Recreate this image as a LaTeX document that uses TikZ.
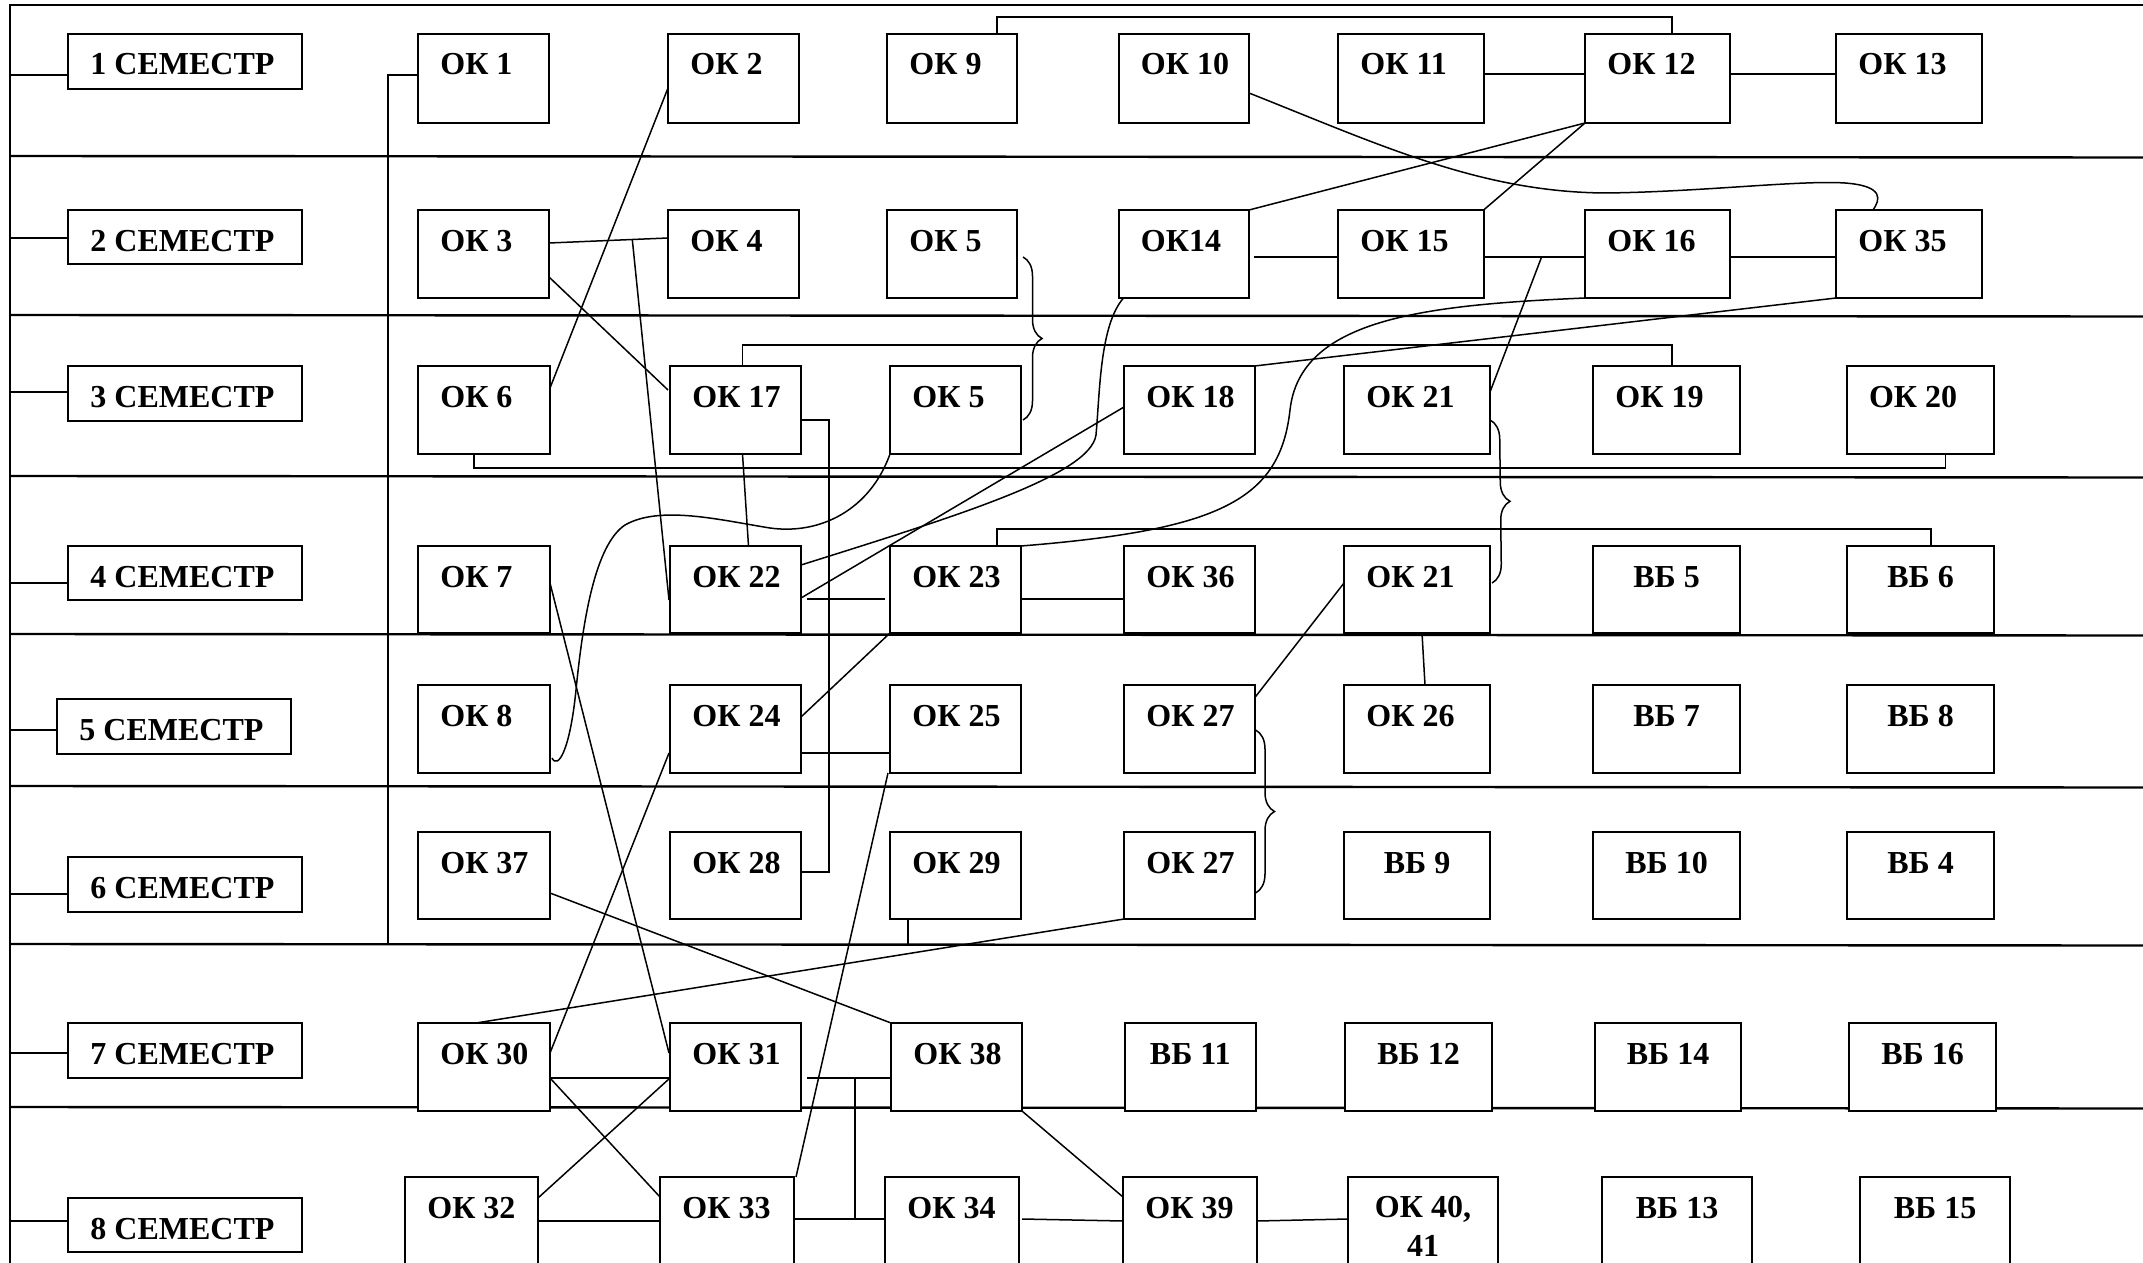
\documentclass[tikz,border=0pt]{standalone}
\usepackage{fontspec}
\setmainfont{Liberation Serif}
\usetikzlibrary{calc,decorations.pathreplacing}
\newcommand\bx[6]{%
  \pgfmathsetmacro\bxw{(#4-#2)*0.5}%
  \pgfmathsetmacro\bxh{(#5-#3)*0.5}%
  \node[box, minimum width=\bxw pt, minimum height=\bxh pt] (#1) at ({(#2+#4)/2},{(#3+#5)/2}) {};%
  \node[lbl, anchor=base west] (#1t) at ($(#1.north west)+(22,41)$) {#6};%
}
\newcommand\bxc[6]{%
  \pgfmathsetmacro\bxw{(#4-#2)*0.5}%
  \pgfmathsetmacro\bxh{(#5-#3)*0.5}%
  \node[box, minimum width=\bxw pt, minimum height=\bxh pt] (#1) at ({(#2+#4)/2},{(#3+#5)/2}) {};%
  \node[lbl, anchor=base] (#1t) at ($(#1.north)+(0,41)$) {#6};%
}
\begin{document}
\begin{tikzpicture}[x=0.5pt,y=-0.5pt,
  box/.style={draw, fill=white, line width=1pt, inner sep=0pt, outer sep=0pt},
  lbl/.style={inner sep=0pt, font=\fontsize{16}{19.25}\selectfont\bfseries},
  sep/.style={line width=1.2pt},
  semc/.style={line width=1pt},
  conn/.style={line width=0.75pt},
  brc/.style={line width=0.75pt, decorate, decoration={brace, amplitude=9.5pt}}]
\useasboundingbox (0,0) rectangle (2143,1263);
\clip (0,0) rectangle (2143,1263);
\fill[white] (0,0) rectangle (2143,1263);

% frame and row separators
\draw[sep] (10,1263) -- (10,5) -- (2143,5);
\foreach \yy in {156,315,476,634,786,944,1107}
  \draw[sep] (10,\yy) -- (2143,\yy+1.5);

% semester boxes
\bx{s1}{68}{34}{301.5}{89}{1 СЕМЕСТР}
\bx{s2}{68}{210}{301.5}{264}{2 СЕМЕСТР}
\bx{s3}{68}{366}{301.5}{421}{3 СЕМЕСТР}
\bx{s4}{68}{546}{301.5}{600}{4 СЕМЕСТР}
\bx{s5}{57}{699}{290.5}{754}{5 СЕМЕСТР}
\bx{s6}{68}{857}{301.5}{912}{6 СЕМЕСТР}
\bx{s7}{68}{1023}{301.5}{1078}{7 СЕМЕСТР}
\bx{s8}{68}{1198}{301.5}{1252}{8 СЕМЕСТР}
\draw[semc] ($(s1.north west)+(0,41)$) -- ++(-58,0);
\draw[semc] ($(s2.north west)+(0,28)$) -- ++(-58,0);
\draw[semc] ($(s3.north west)+(0,26)$) -- ++(-58,0);
\draw[semc] ($(s4.north west)+(0,37)$) -- ++(-58,0);
\draw[semc] ($(s5.north west)+(0,31)$) -- ++(-47,0);
\draw[semc] ($(s6.north west)+(0,37)$) -- ++(-58,0);
\draw[semc] ($(s7.north west)+(0,30)$) -- ++(-58,0);
\draw[semc] ($(s8.north west)+(0,23)$) -- ++(-58,0);

% row 1
\bx{ok1}{418}{34}{549}{123}{ОК 1}
\bx{ok2}{668}{34}{798.5}{123}{ОК 2}
\bx{ok9}{887}{34}{1017}{123}{ОК 9}
\bx{ok10}{1118.5}{34}{1249}{123}{ОК 10}
\bx{ok11}{1338}{34}{1483.6}{123}{ОК 11}
\bx{ok12}{1585}{34}{1730}{123}{ОК 12}
\bx{ok13}{1836}{34}{1982}{123}{ОК 13}
% row 2
\bx{ok3}{418}{210}{549}{298}{ОК 3}
\bx{ok4}{668}{210}{798.5}{298}{ОК 4}
\bx{ok5}{887}{210}{1017}{298}{ОК 5}
\bx{ok14}{1118.5}{210}{1249}{298}{ОК14}
\bx{ok15}{1338}{210}{1483.6}{298}{ОК 15}
\bx{ok16}{1585}{210}{1730}{298}{ОК 16}
\bx{ok35}{1836}{210}{1982}{298}{ОК 35}
% row 3
\bx{ok6}{418}{366}{550}{454}{ОК 6}
\bx{ok17}{670}{366}{801}{454}{ОК 17}
\bx{ok5b}{890}{366}{1021}{454}{ОК 5}
\bx{ok18}{1124}{366}{1254.5}{454}{ОК 18}
\bx{ok21}{1344}{366}{1490}{454}{ОК 21}
\bx{ok19}{1593}{366}{1740}{454}{ОК 19}
\bx{ok20}{1846.6}{366}{1993.6}{454}{ОК 20}
% row 4
\bx{ok7}{418}{546}{550}{633}{ОК 7}
\bx{ok22}{670}{546}{801}{633}{ОК 22}
\bx{ok23}{890}{546}{1021}{633}{ОК 23}
\bx{ok36}{1124}{546}{1254.5}{633}{ОК 36}
\bx{ok21b}{1344}{546}{1490}{633}{ОК 21}
\bxc{vb5}{1593}{546}{1740}{633}{ВБ 5}
\bxc{vb6}{1847}{546}{1994}{633}{ВБ 6}
% row 5
\bx{ok8}{418}{685}{550}{773}{ОК 8}
\bx{ok24}{670}{685}{801}{773}{ОК 24}
\bx{ok25}{890}{685}{1021}{773}{ОК 25}
\bx{ok27}{1124}{685}{1254.5}{773}{ОК 27}
\bx{ok26}{1344}{685}{1490}{773}{ОК 26}
\bxc{vb7}{1593}{685}{1740}{773}{ВБ 7}
\bxc{vb8}{1847}{685}{1994}{773}{ВБ 8}
% row 6
\bx{ok37}{418}{832}{550}{919}{ОК 37}
\bx{ok28}{670}{832}{801}{919}{ОК 28}
\bx{ok29}{890}{832}{1021}{919}{ОК 29}
\bx{ok27b}{1124}{832}{1254.5}{919}{ОК 27}
\bxc{vb9}{1344}{832}{1490}{919}{ВБ 9}
\bxc{vb10}{1593}{832}{1740}{919}{ВБ 10}
\bxc{vb4}{1847}{832}{1994}{919}{ВБ 4}
% row 7
\bx{ok30}{418}{1023}{550}{1111}{ОК 30}
\bx{ok31}{670}{1023}{801}{1111}{ОК 31}
\bx{ok38}{891}{1023}{1022}{1111}{ОК 38}
\bxc{vb11}{1124.6}{1023}{1256}{1111}{ВБ 11}
\bxc{vb12}{1345}{1023}{1492}{1111}{ВБ 12}
\bxc{vb14}{1595}{1023}{1741}{1111}{ВБ 14}
\bxc{vb16}{1849}{1023}{1996}{1111}{ВБ 16}
% row 8
\bx{ok32}{405}{1177}{538}{1266}{ОК 32}
\bx{ok33}{660}{1177}{794}{1266}{ОК 33}
\bx{ok34}{885}{1177}{1019}{1266}{ОК 34}
\bx{ok39}{1123}{1177}{1257}{1266}{ОК 39}
\node[box, minimum width=75pt, minimum height=44.5pt] (ok40) at (1423,1221.5) {};
\node[lbl, align=center, anchor=north] (ok40t) at ($(ok40.north)+(0,19)$) {ОК 40,\\41};
\bxc{vb13}{1602}{1177}{1752}{1266}{ВБ 13}
\bxc{vb15}{1860}{1177}{2010}{1266}{ВБ 15}

% OK1 spine
\draw[conn] ($(ok1.north west)+(0,41)$) -- ++(-30,0) -- ++(0,869);

% connectors, semester 1-2
\draw[conn] ($(ok9.north east)+(-20,0)$) -- ++(0,-17) -| ($(ok12.north west)+(87,0)$);
\draw[conn] ($(ok11.north east)+(0,40)$) -- ($(ok12.north west)+(0,40)$);
\draw[conn] ($(ok12.north east)+(0,40)$) -- ($(ok13.north west)+(0,40)$);
\draw[conn] ($(ok10.north east)+(0,59)$) .. controls (1380,145) and (1480,192) .. (1605,193)
   .. controls (1700,192) and (1800,180) .. (1845,183)
   .. controls (1885,186) and (1880,200) .. ($(ok35.north west)+(37,0)$);
\draw[conn] (ok12.south west) -- (ok14.north east);
\draw[conn] (ok12.south west) -- (ok15.north east);
\draw[conn] ($(ok14.north east)+(5,47)$) -- ($(ok15.north west)+(0,47)$);
\draw[conn] ($(ok15.north east)+(0,47)$) -- ($(ok16.north west)+(0,47)$);
\coordinate (j1) at ($(ok15.north east)+(58,47)$);
\draw[conn] (j1) -- ($(ok21.north east)+(0,26)$);
\draw[conn] ($(ok16.north east)+(0,47)$) -- ($(ok35.north west)+(0,47)$);
\draw[conn] (ok16.south west) .. controls (1420,305) and (1300,320) .. (1290,410)
   .. controls (1280,500) and (1220,530) .. (ok23.north east);
\draw[conn] (ok35.south west) -- (ok18.north east);
\coordinate (ok3r) at ($(ok3.north east)+(0,33)$);
\coordinate (ok4l) at ($(ok4.north west)+(0,28)$);
\draw[conn] (ok3r) -- (ok4l);
\coordinate (j2) at ($(ok3r)!0.7!(ok4l)$);
\draw[conn] (j2) -- ($(ok22.north west)+(-1,54)$);
\draw[conn] ($(ok3.north east)+(0,67)$) -- ($(ok17.north west)+(-2,24)$);
\draw[conn] ($(ok2.north west)+(0,54)$) -- ($(ok6.north east)+(0,22)$);

% semester 3-4
\draw[conn] ($(ok17.north)+(7,0)$) -- ++(0,-21) -| ($(ok19.north west)+(79,0)$);
\draw[brc] ($(ok5.north east)+(6,47)$) -- ($(ok5b.north east)+(2,54)$);
\draw[brc] ($(ok21.north east)+(0,54)$) -- ($(ok21b.north east)+(2,37)$);
\draw[brc] ($(ok27.north east)+(1,45)$) -- ($(ok27b.north east)+(1,61)$);
\draw[conn] ($(ok6.south west)+(56,0)$) -- ++(0,14) -| ($(ok20.south west)+(99,0)$);
\draw[conn] ($(ok17.north east)+(0,54)$) -- ++(28,0) |- ($(ok28.north east)+(0,40)$);
\draw[conn] ($(ok17.south)+(7,0)$) -- ($(ok22.north)+(13,0)$);
\draw[conn] (ok5b.south west) .. controls (870,510) and (820,535) .. (770,528)
   .. controls (720,520) and (660,505) .. (625,525)
   .. controls (595,545) and (583,620) .. (576,690)
   .. controls (570,750) and (558,770) .. ($(ok8.north east)+(2,73)$);
\draw[conn] ($(ok14.south west)+(5,0)$) .. controls (1100,325) and (1100,390) .. (1096,435)
   .. controls (1090,475) and (960,515) .. ($(ok22.north east)+(0,19)$);
\draw[conn] ($(ok22.north east)+(0,52)$) -- ($(ok18.north west)+(0,41)$);
\draw[conn] ($(ok22.north east)+(6,53)$) -- ($(ok23.north west)+(-5,53)$);
\draw[conn] ($(ok23.north west)+(107,0)$) -- ++(0,-17) -| ($(vb6.north west)+(84,0)$);
\draw[conn] ($(ok23.north east)+(0,53)$) -- ($(ok36.north west)+(0,53)$);

% semester 4-6
\draw[conn] ($(ok21b.north west)+(0,37)$) -- ($(ok27.north east)+(0,13)$);
\draw[conn] ($(ok21b.south west)+(78,0)$) -- ($(ok26.north west)+(81,0)$);
\draw[conn] (ok23.south west) -- ($(ok24.north east)+(0,32)$);
\draw[conn] ($(ok24.north east)+(0,68)$) -- ($(ok25.north west)+(0,68)$);
\draw[conn] ($(ok24.north west)+(-1,68)$) -- ($(ok30.north east)+(0,30)$);
\draw[conn] ($(ok7.north east)+(0,37)$) -- ($(ok31.north west)+(-1,30)$);
\draw[conn] ($(ok25.south west)+(-2,0)$) -- ($(ok33.north east)+(2,0)$);
\draw[conn] ($(ok37.north east)+(0,61)$) -- (ok38.north west);
\draw[conn] ($(ok29.south west)+(18,0)$) -- ++(0,25);
\draw[conn] (ok27b.south west) -- ($(ok30.north west)+(58,0)$);

% semester 7-8
\draw[conn] ($(ok30.north east)+(0,55)$) -- ($(ok31.north west)+(0,55)$);
\draw[conn] ($(ok30.north east)+(0,55)$) -- ($(ok33.north west)+(0,20)$);
\draw[conn] ($(ok31.north west)+(0,55)$) -- ($(ok32.north east)+(0,21)$);
\draw[conn] ($(ok31.north east)+(6,55)$) -- ($(ok38.north west)+(0,55)$);
\coordinate (j3) at ($(ok31.north east)+(54,55)$);
\draw[conn] (j3) -- ++(0,141);
\draw[conn] ($(ok33.north east)+(0,42)$) -- ($(ok34.north west)+(0,42)$);
\draw[conn] ($(ok32.north east)+(0,44)$) -- ($(ok33.north west)+(0,44)$);
\draw[conn] ($(ok34.north east)+(3,42)$) -- ($(ok39.north west)+(0,44)$);
\draw[conn] (ok38.south east) -- ($(ok39.north west)+(0,20)$);
\draw[conn] ($(ok39.north east)+(0,44)$) -- ($(ok40.north west)+(0,42)$);
\end{tikzpicture}
\end{document}
